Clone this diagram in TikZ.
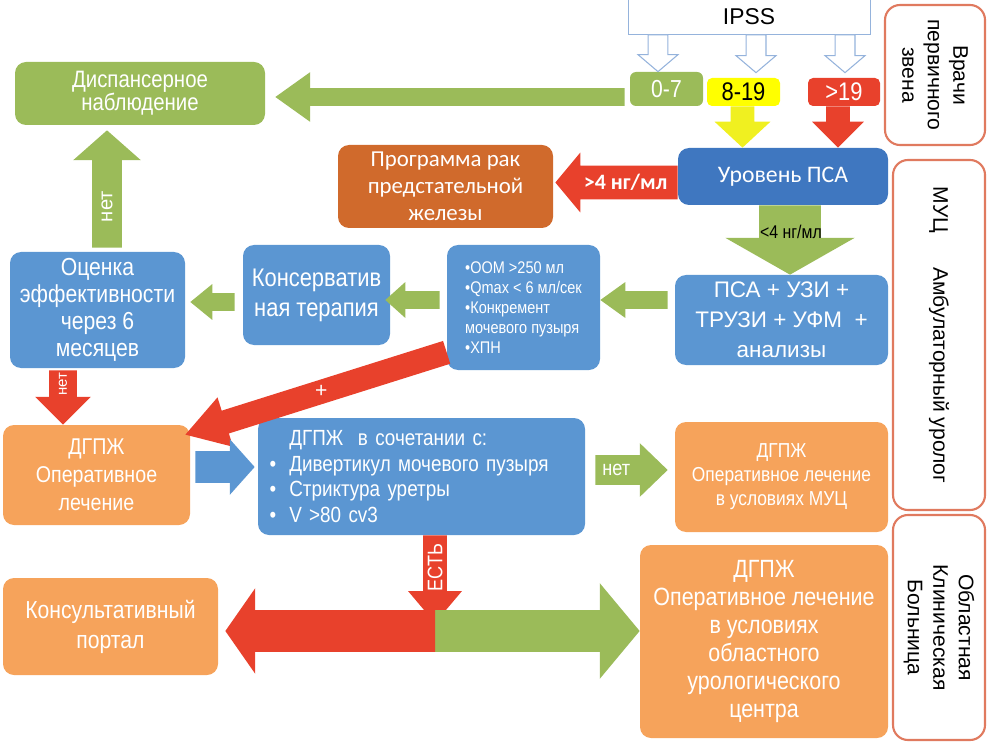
\documentclass[tikz,border=0pt]{standalone}
\usepackage{fontspec}
\setmainfont{Liberation Sans}
\newfontfamily\nar[FakeStretch=0.86]{Liberation Sans}
\newfontfamily\calfont{Carlito}
\usetikzlibrary{calc}
\definecolor{gr}{HTML}{9BBB59}
\definecolor{bl}{HTML}{5B96D2}
\definecolor{dbl}{HTML}{3F77C0}
\definecolor{rd}{HTML}{E8412C}
\definecolor{org}{HTML}{F6A35B}
\definecolor{brn}{HTML}{D06A2C}
\definecolor{yel}{HTML}{FFFF00}
\definecolor{yel2}{HTML}{F0F020}
\definecolor{ipssb}{HTML}{95B3DC}
\definecolor{sideb}{HTML}{E07A5F}
\newcommand\fs[2]{\fontsize{#1}{#2}\selectfont}
\def\pxpt{0.5669pt}
% block arrow: [style]{from}{to}{shaft half}{head half}{head length} (px)
\newcommand\barrow[6][]{%
  \path[#1] let \p1=(#2), \p2=(#3), \n1={atan2(\y2-\y1,\x2-\x1)}, \n2={veclen(\x2-\x1,\y2-\y1)} in
  [shift={(\p1)}, rotate=\n1]
  (0pt,{-#4*\pxpt}) -- ({\n2*1pt-#6*\pxpt},{-#4*\pxpt}) -- ({\n2*1pt-#6*\pxpt},{-#5*\pxpt})
  -- ({\n2*1pt},0pt) -- ({\n2*1pt-#6*\pxpt},{#5*\pxpt}) -- ({\n2*1pt-#6*\pxpt},{#4*\pxpt})
  -- (0pt,{#4*\pxpt}) -- cycle;}
\tikzset{
  box/.style={rounded corners=0.22cm, inner sep=1pt, align=center, text=white},
  sz/.style 2 args={minimum width=#1*0.02cm, minimum height=#2*0.02cm},
  side/.style={draw=sideb, line width=1.2pt, rounded corners=0.3cm, fill=white, text=black, align=center, font=\fs{12}{14.5}},
  hol/.style={draw=ipssb, fill=white, line width=0.6pt},
  lbl/.style={text=white, inner sep=0pt},
}
\begin{document}
\begin{tikzpicture}[x=0.02cm, y=-0.02cm]
\useasboundingbox (0,0) rectangle (993,746);
% nodes
\node[box, fill=white, draw=ipssb, rounded corners=0, sz={242}{35}, text=black, font=\fs{13}{14}] (ipss) at (749,17) {IPSS};
\node[box, fill=gr, sz={73}{34}, rounded corners=0.12cm, font=\nar\fs{14}{15}] (n07) at (666.5,89) {0-7};
\node[box, fill=yel, sz={73}{28}, rounded corners=0.1cm, text=black, font=\nar\fs{14.5}{15}] (n819) at (743.5,92) {8-19};
\node[box, fill=rd, sz={72}{28}, rounded corners=0.1cm, font=\nar\fs{14.5}{15}] (n19) at (844,92) {>19};
\node[side, sz={140}{100}, rotate=-90] (vrachi) at (935,75) {Врачи\\первичного\\звена};
\node[side, sz={350}{92}, rotate=-90] (muc) at (939,335) {МУЦ\hspace{1.6em}Амбулаторный уролог};
\node[side, sz={225}{92}, rotate=-90] (obl) at (939,627.5) {Областная\\Клиническая\\Больница};
\node[box, fill=gr, sz={250}{63}, font=\nar\fs{13.5}{13}] (disp) at (140,93.5) {Диспансерное\\наблюдение};
\node[box, fill=dbl, sz={210}{57}, font=\calfont\fs{13.5}{14}] (psa) at (783,176.5) {Уровень ПСА};
\node[box, fill=brn, sz={215}{83}, font=\calfont\fs{13}{15.5}] (prog) at (445.5,186.5) {Программа рак\\предстательной\\железы};
\node[box, fill=bl, sz={213}{90}, font=\fs{12.8}{17}] (psauzi) at (781.5,320) {ПСА + УЗИ +\\ТРУЗИ + УФМ\ \ +\\анализы};
\node[box, fill=bl, sz={153}{125}, font=\nar\fs{9.6}{11.3}, align=left] (list) at (523.5,307.5) {•ООМ >250 мл\\•Qmax < 6 мл/сек\\•Конкремент\\мочевого пузыря\\•ХПН};
\node[box, fill=bl, sz={147}{100}, font=\nar\fs{14.5}{17}] (kons) at (316.5,295) {Консерватив\\ная терапия};
\node[box, fill=bl, sz={175}{116}, font=\nar\fs{14}{15.3}] (ocenka) at (97.5,310) {Оценка\\эффективности\\через 6\\месяцев};
\node[box, fill=org, sz={187}{100}, font=\nar\fs{13}{16}] (dgpz1) at (96.5,475) {ДГПЖ\\Оперативное\\лечение};
\node[box, fill=bl, sz={327}{117}, font=\nar\fs{12.5}{14.7}, align=left, text width=304*0.02cm] (combo) at (421.5,476.5) {\hspace*{0.9em}ДГПЖ\ \ в сочетании с:\\\makebox[0.9em][l]{•}Дивертикул мочевого пузыря\\\makebox[0.9em][l]{•}Стриктура уретры\\\makebox[0.9em][l]{•}V >80 cv3};
\node[box, fill=org, sz={213}{110}, font=\nar\fs{11.5}{13.6}] (dgpzmuc) at (781.5,477) {ДГПЖ\\Оперативное лечение\\в условиях МУЦ};
\node[box, fill=org, sz={215}{97}, font=\nar\fs{14}{17}] (konsult) at (110.5,626.5) {Консультативный\\портал};
\node[box, fill=org, sz={248}{193}, font=\nar\fs{14.2}{16}] (dgpzobl) at (764,641.5) {ДГПЖ\\Оперативное лечение\\в условиях\\областного\\урологического\\центра};
% arrows
\barrow[hol]{$(ipss.south -| n07)+(-8.5,0)$}{$(n07.north)+(-8.5,0)$}{10}{20}{17}
\barrow[hol]{$(ipss.south -| n819)+(12.5,0)$}{$(n819.north)+(12.5,-5)$}{10}{20}{17}
\barrow[hol]{$(ipss.south -| n19)+(1,0)$}{$(n19.north)+(1,-5)$}{10}{20}{17}
\barrow[fill=gr]{$(n07.west)+(-5,8)$}{$(disp.east |- n07.west)+(10,8)$}{9}{25}{35}
\barrow[fill=yel2]{$(n819.south)+(-1,0)$}{$(psa.north -| n819)+(-1,0)$}{12}{28}{26}
\barrow[fill=rd]{$(n19.south)+(-6,0)$}{$(psa.north -| n19)+(-6,0)$}{12}{26}{26}
\barrow[fill=rd]{$(psa.west)+(0,6)$}{$(prog.east |- psa.west)+(2,6)$}{17}{30}{25}
\node[lbl, font=\calfont\bfseries\fs{12.5}{13}] at ($(psa.west)+(-52,6)$) {>4 нг/мл};
\barrow[fill=gr]{$(psa.south)+(7,0)$}{$(psauzi.north)+(8.5,0)$}{31}{65}{37}
\node[inner sep=0pt, font=\nar\fs{10.5}{11}] at ($(psa.south)+(8,27)$) {<4 нг/мл};
\barrow[fill=gr]{$(psauzi.west)+(-7,-20)$}{$(list.east)+(0,-7.5)$}{9}{18}{25}
\barrow[fill=gr]{$(list.west)+(-7,-7.5)$}{$(kons.east)+(-5,5)$}{9}{18}{20}
\barrow[fill=gr]{$(kons.west)+(-8,7)$}{$(ocenka.east)+(5,-8)$}{9}{18}{22}
\barrow[fill=gr]{$(ocenka.north)+(9.5,-4)$}{$(disp.south -| ocenka.north)+(9.5,5)$}{15}{34}{30}
\node[lbl, rotate=90, font=\fs{11.5}{12}] at ($(ocenka.north)+(9.5,-45)$) {нет};
\barrow[fill=rd]{$(ocenka.south)+(-34.5,2)$}{$(dgpz1.north -| ocenka.south)+(-34.5,0)$}{14}{28}{28}
\node[lbl, rotate=90, font=\fs{8.5}{9}] at ($(ocenka.south)+(-34.5,16)$) {нет};
\coordinate (dA) at ($(list.south west)+(0,-18)$);
\coordinate (dB) at ($(dgpz1.north east)+(-5,10)$);
\barrow[fill=rd]{dA}{dB}{12}{26}{42}
\node[lbl, font=\fs{12}{12}] at ($(dA)!0.48!(dB)$) {+};
\barrow[fill=bl]{$(dgpz1.east)+(5,-8)$}{$(combo.west)+(-3,-9.5)$}{16}{28}{25}
\barrow[fill=gr]{$(combo.east)+(10,-6.5)$}{$(dgpzmuc.west)+(-7,-7)$}{15}{27}{28}
\node[lbl, font=\nar\fs{12}{12}] at ($(combo.east)+(31,-6.5)$) {нет};
\coordinate (split) at (435,631);
\barrow[fill=rd]{combo.south -| split}{$(split)+(0,-8)$}{12}{27}{32}
\node[lbl, rotate=90, font=\nar\fs{12}{12}] at ($(combo.south -| split)+(0,32)$) {ЕСТЬ};
\barrow[fill=gr]{split}{dgpzobl.west |- split}{21}{48}{40}
\barrow[fill=rd]{split}{$(konsult.east |- split)+(7,0)$}{21}{43}{30}
\end{tikzpicture}
\end{document}
